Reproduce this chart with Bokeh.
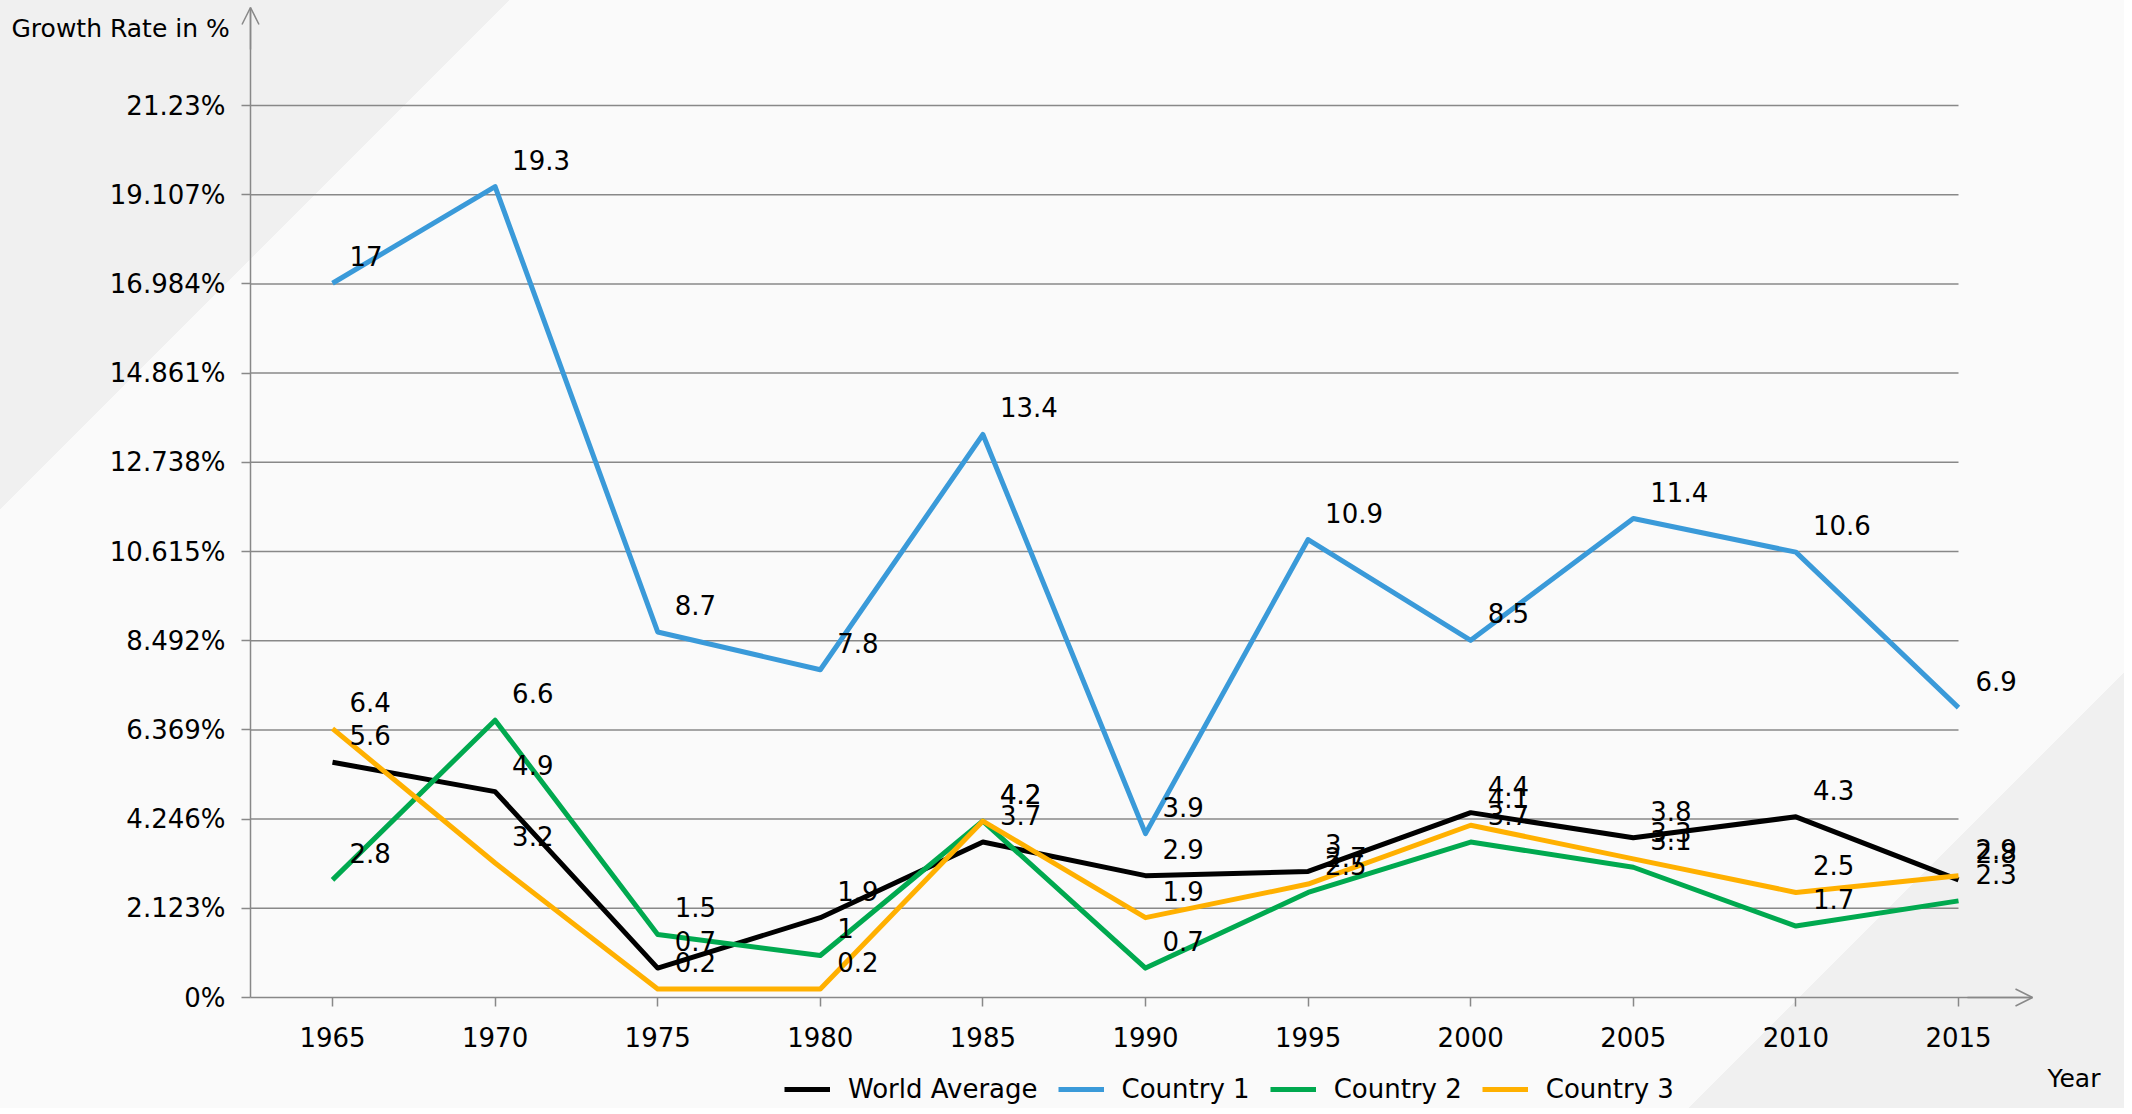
from bokeh.plotting import figure
from bokeh.models import (Range1d, FixedTicker, Label, Legend, LegendItem, Arrow, OpenHead,
                          ColumnDataSource)
from bokeh.core.properties import value
from bokeh.embed import file_html
from bokeh.resources import INLINE

# ---------------- data ----------------
years = [1965, 1970, 1975, 1980, 1985, 1990, 1995, 2000, 2005, 2010, 2015]
world_average = [5.6, 4.9, 0.7, 1.9, 3.7, 2.9, 3.0, 4.4, 3.8, 4.3, 2.8]
country_1 = [17.0, 19.3, 8.7, 7.8, 13.4, 3.9, 10.9, 8.5, 11.4, 10.6, 6.9]
country_2 = [2.8, 6.6, 1.5, 1.0, 4.2, 0.7, 2.5, 3.7, 3.1, 1.7, 2.3]
country_3 = [6.4, 3.2, 0.2, 0.2, 4.2, 1.9, 2.7, 4.1, 3.3, 2.5, 2.9]
series_names = ["World Average", "Country 1", "Country 2", "Country 3"]
y_tick_values = [0, 2.123, 4.246, 6.369, 8.492, 10.615, 12.738, 14.861, 16.984, 19.107, 21.23]
y_tick_labels = ["0%", "2.123%", "4.246%", "6.369%", "8.492%", "10.615%", "12.738%",
                 "14.861%", "16.984%", "19.107%", "21.23%"]
x_tick_labels = [str(y) for y in years]
y_title = "Growth Rate in %"
x_title = "Year"

# ---------------- layout (canvas pixels) ----------------
W, H = 2124, 1108
PXY = (1958 - 332) / 50.0          # px per year
PXU = (997 - 105) / 21.23          # px per percent

def sx(cx):
    return 1965 + (cx - 332) / PXY

def sy(cy):
    return (997 - cy) / PXU

AX_X = sx(250)      # y axis position
AX_XEND = sx(2032)  # x axis arrow tip
AX_YTOP = sy(7)     # y axis arrow tip

FONT = "DejaVu Sans"
GRAY = "#888888"
colors = ["#000000", "#3a9ad9", "#00a94f", "#ffb000"]

p = figure(width=W, height=H, output_backend="svg", toolbar_location=None,
           x_range=Range1d(sx(0), sx(W)), y_range=Range1d(sy(H), sy(0)),
           min_border=0, min_border_left=0, min_border_right=0,
           min_border_top=0, min_border_bottom=0)
p.background_fill_color = None
p.border_fill_color = None
p.outline_line_color = None
d1 = 510 / 2 ** 0.5
d2 = 2796 / 2 ** 0.5
p.styles = {"background": f"linear-gradient(135deg, #f0f0f0 0px, #f0f0f0 {d1:.1f}px, "
                          f"#fafafa {d1:.1f}px, #fafafa {d2:.1f}px, #f0f0f0 {d2:.1f}px)"}
p.xgrid.visible = False
p.ygrid.visible = False

# axes
for ax in (p.xaxis[0], p.yaxis[0]):
    ax.axis_line_color = GRAY
    ax.axis_line_width = 1.5
    ax.major_tick_line_color = GRAY
    ax.major_tick_line_width = 1.5
    ax.major_tick_in = 0
    ax.major_tick_out = 9
    ax.minor_tick_line_color = None
    ax.major_label_text_font = FONT
    ax.major_label_text_font_size = "26px"
    ax.major_label_text_color = "#000000"

xa = p.xaxis[0]
xa.fixed_location = 0
xa.bounds = (AX_X, AX_XEND)
xa.ticker = FixedTicker(ticks=years)
xa.major_label_overrides = {y: l for y, l in zip(years, x_tick_labels)}
xa.major_label_standoff = 20

ya = p.yaxis[0]
ya.fixed_location = AX_X
ya.bounds = (0, AX_YTOP)
ya.ticker = FixedTicker(ticks=y_tick_values)
ya.major_label_overrides = {v: l for v, l in zip(y_tick_values, y_tick_labels)}
ya.major_label_standoff = 16

# grid lines (from axis to last year)
nz = [v for v in y_tick_values if v > 0]
p.segment(x0=[AX_X] * len(nz), y0=nz, x1=[years[-1]] * len(nz), y1=nz,
          line_color=GRAY, line_width=1.5)

# arrow heads
p.add_layout(Arrow(end=OpenHead(size=17, line_color=GRAY, line_width=1.5),
                   x_start=AX_X, y_start=AX_YTOP - 1, x_end=AX_X, y_end=AX_YTOP,
                   line_color=GRAY, line_width=1.5))
p.add_layout(Arrow(end=OpenHead(size=17, line_color=GRAY, line_width=1.5),
                   x_start=AX_XEND - 2, y_start=0, x_end=AX_XEND, y_end=0,
                   line_color=GRAY, line_width=1.5))

# series
all_series = [world_average, country_1, country_2, country_3]
renderers = []
for name, vals, col in zip(series_names, all_series, colors):
    src = ColumnDataSource(dict(x=years, y=vals))
    r = p.line("x", "y", source=src, line_color=col, line_width=5, line_join="round")
    renderers.append(r)
for name, vals, col in zip(series_names, all_series, colors):
    src = ColumnDataSource(dict(x=years, y=vals, t=[("%g" % v) for v in vals]))
    p.text("x", "y", text="t", source=src, x_offset=17, y_offset=-27,
           text_font=value(FONT), text_font_size="26px", text_color="#000000",
           text_baseline="alphabetic", text_align="left")

# titles
p.add_layout(Label(x=sx(11), y=sy(28), text=y_title, text_font=FONT, text_font_size="25px",
                   text_color="#000000", text_baseline="alphabetic", text_align="left"))
p.add_layout(Label(x=sx(2047), y=sy(1078), text=x_title, text_font=FONT, text_font_size="25px",
                   text_color="#000000", text_baseline="alphabetic", text_align="left"))

# legend
legend = Legend(items=[LegendItem(label=n, renderers=[r]) for n, r in zip(series_names, renderers)],
                orientation="horizontal", location=(784, 4),
                label_text_font=FONT, label_text_font_size="26px", label_text_color="#000000",
                glyph_width=46, glyph_height=30, label_height=30, label_standoff=18,
                spacing=20, padding=0, margin=0,
                border_line_color=None, background_fill_alpha=0)
p.add_layout(legend)

open("out.html", "w").write(file_html(p, INLINE))
